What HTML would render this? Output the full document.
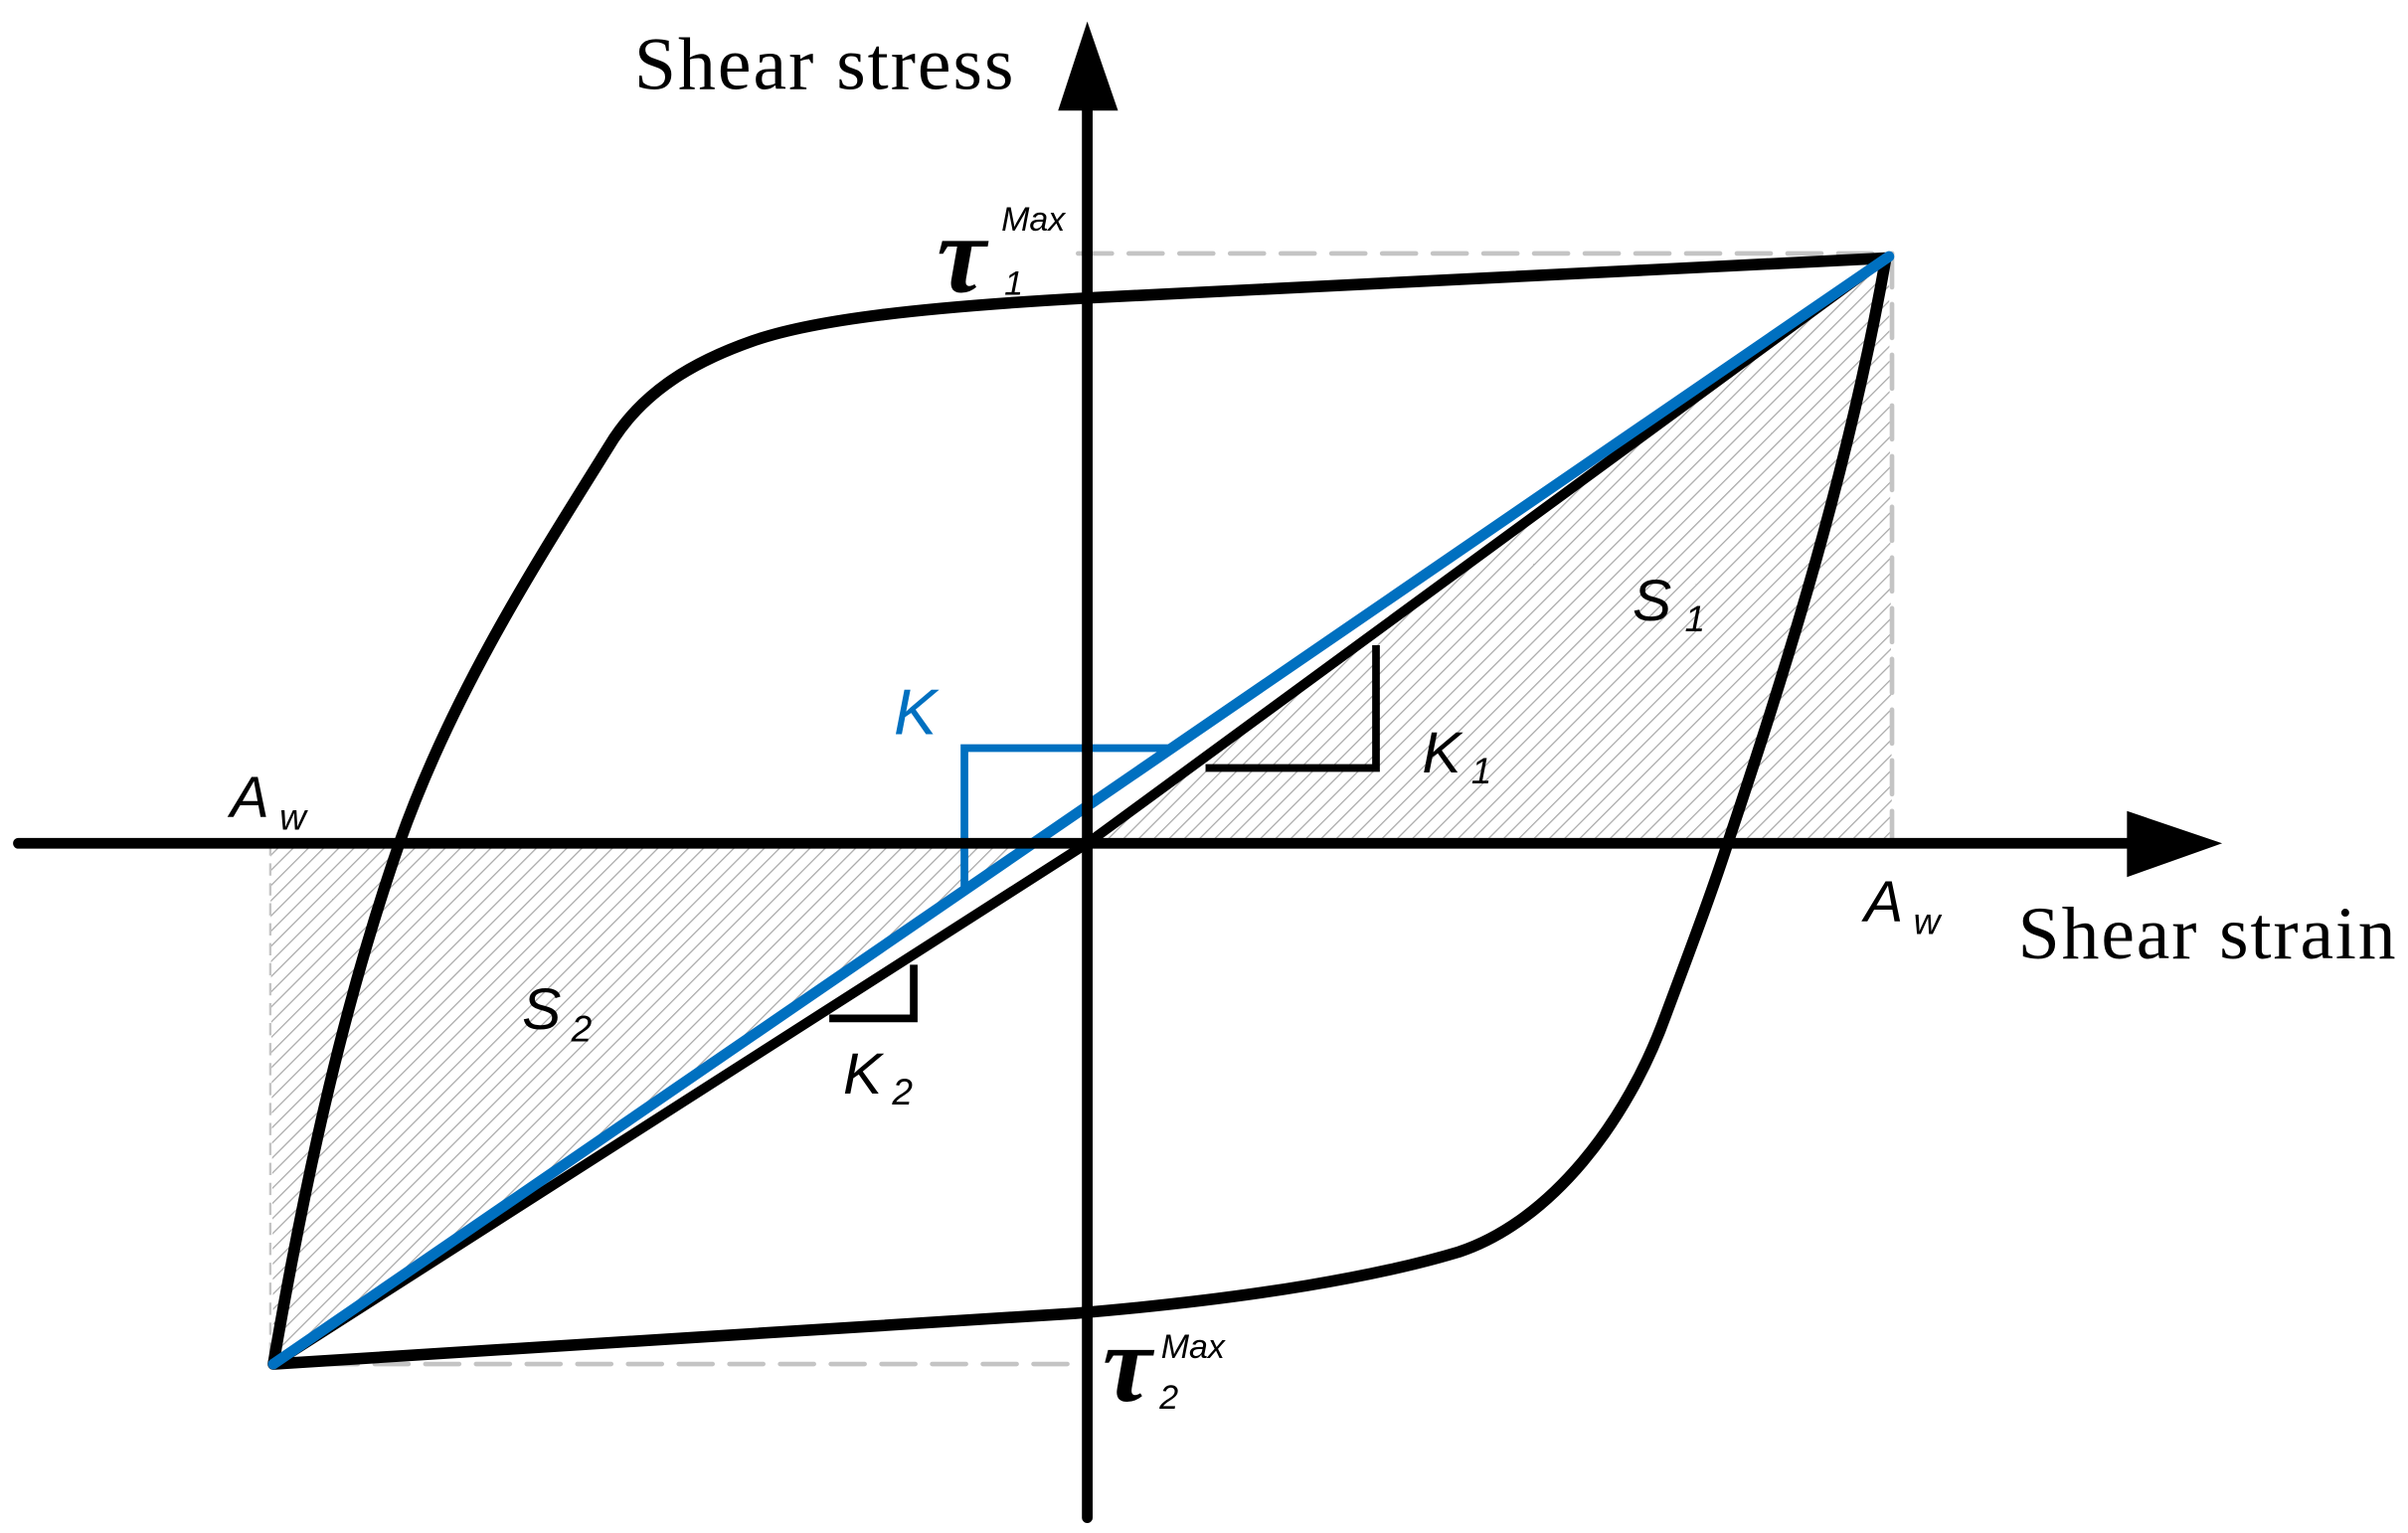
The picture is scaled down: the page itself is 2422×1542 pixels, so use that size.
<!DOCTYPE html>
<html><head><meta charset="utf-8"><style>
html,body{margin:0;padding:0;background:#fff;}
svg{display:block;}
</style></head><body>
<svg width="2422" height="1542" viewBox="0 0 1568 998" preserveAspectRatio="none" xmlns="http://www.w3.org/2000/svg">
<defs>
<pattern id="h" patternUnits="userSpaceOnUse" width="7" height="7" patternTransform="rotate(45)">
<line x1="0" y1="0" x2="0" y2="7" stroke="#a8a8a8" stroke-width="1.6"/>
</pattern>
</defs>
<rect width="1568" height="998" fill="#fff"/>
<polygon points="708,549 1230,167 1232,549" fill="url(#h)"/>
<polygon points="176,549 672,549 178,888" fill="url(#h)"/>
<g stroke="#c4c4c4" stroke-width="3" stroke-dasharray="22 11" fill="none" stroke-linecap="round">
<line x1="702" y1="165" x2="1232" y2="165"/>
<line x1="1232" y1="165" x2="1232" y2="549"/>
<line x1="178" y1="888" x2="702" y2="888"/>
</g>
<line x1="176" y1="549" x2="176" y2="888" stroke="#c4c4c4" stroke-width="1.5" stroke-dasharray="8 5"/>
<path d="M1228,168 L708,194 C600,200 530,208 490,222 C450,236 420,255 400,285 C350,365 295,450 260,549 C225,650 200,760 178,888 L700,855 C820,845 900,830 950,815 C1010,795 1060,730 1085,660 C1100,620 1115,580 1125,549 C1165,430 1205,300 1228,168"
 fill="none" stroke="#000" stroke-width="7.5" stroke-linejoin="round"/>
<path d="M178,888 L708,549 L1228,168" fill="none" stroke="#000" stroke-width="6.5"/>
<line x1="178" y1="888" x2="1230" y2="167" stroke="#0070c0" stroke-width="7" stroke-linecap="round"/>
<path d="M785,500 L896,500 L896,420" fill="none" stroke="#000" stroke-width="5"/>
<path d="M540,663 L595,663 L595,628" fill="none" stroke="#000" stroke-width="5"/>
<path d="M628,578 L628,487 L762,487" fill="none" stroke="#0070c0" stroke-width="5"/>
<line x1="12" y1="549" x2="1395" y2="549" stroke="#000" stroke-width="7" stroke-linecap="round"/>
<polygon points="1385,528 1447,549 1385,571" fill="#000"/>
<line x1="708" y1="60" x2="708" y2="988" stroke="#000" stroke-width="7" stroke-linecap="round"/>
<polygon points="689,72 708,14 728,72" fill="#000"/>
<g font-family="Liberation Serif, serif" font-size="49" fill="#000">
<text x="413" y="58" textLength="247">Shear stress</text>
<text x="1314" y="624" textLength="246">Shear strain</text>
</g>
<g font-family="Liberation Sans, sans-serif" font-style="italic" fill="#000">
<text x="610" y="190" font-size="72" font-family="Liberation Serif, serif" font-weight="bold">τ</text>
<text x="652" y="150" font-size="22">Max</text>
<text x="654" y="192" font-size="22">1</text>
<text x="718" y="912" font-size="72" font-family="Liberation Serif, serif" font-weight="bold">τ</text>
<text x="756" y="884" font-size="22">Max</text>
<text x="755" y="917" font-size="22">2</text>
<text x="150" y="532" font-size="38">A</text>
<text x="182" y="540" font-size="24">w</text>
<text x="1214" y="600" font-size="38">A</text>
<text x="1246" y="608" font-size="24">w</text>
<text x="1063" y="404" font-size="38">S</text>
<text x="1097" y="411" font-size="24">1</text>
<text x="340" y="670" font-size="38">S</text>
<text x="372" y="678" font-size="24">2</text>
<text x="926" y="503" font-size="38">K</text>
<text x="958" y="510" font-size="24">1</text>
<text x="549" y="712" font-size="38">K</text>
<text x="581" y="719" font-size="24">2</text>
<text x="582" y="478" font-size="42" fill="#0070c0">K</text>
</g>
</svg>
</body></html>
